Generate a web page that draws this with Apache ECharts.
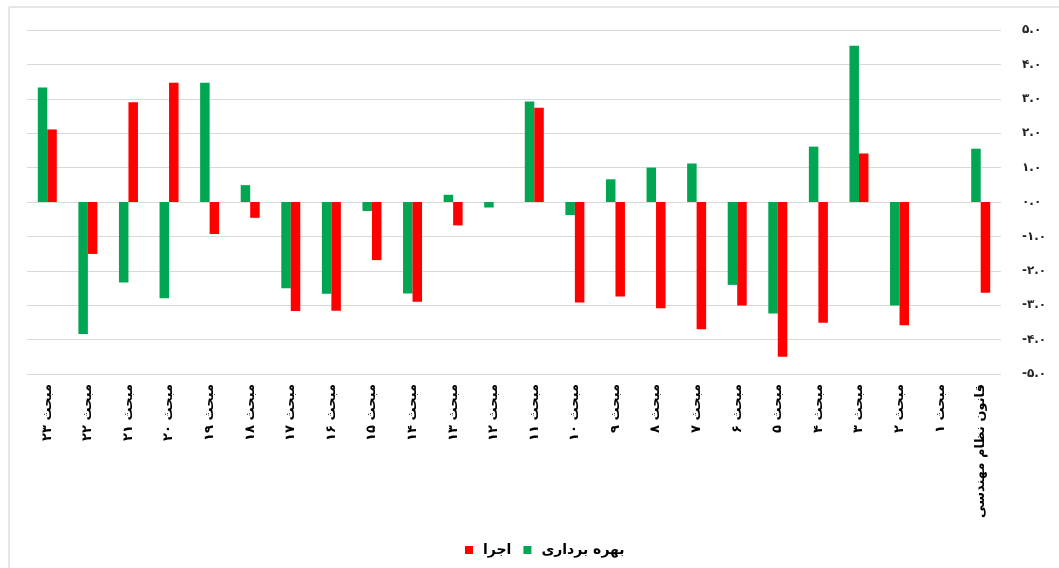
<!DOCTYPE html>
<html>
<head>
<meta charset="utf-8">
<title>chart</title>
<script src="https://cdn.jsdelivr.net/npm/echarts@6/dist/echarts.min.js"></script>
<style>
  html, body { margin: 0; padding: 0; background: #fff; }
  #main { width: 1059px; height: 568px; }
</style>
</head>
<body>
<div id="main"></div>
<script>
// categories, left to right
var categories = [
  'مبحث ۲۳', 'مبحث ۲۲', 'مبحث ۲۱', 'مبحث ۲۰', 'مبحث ۱۹', 'مبحث ۱۸',
  'مبحث ۱۷', 'مبحث ۱۶', 'مبحث ۱۵', 'مبحث ۱۴', 'مبحث ۱۳', 'مبحث ۱۲',
  'مبحث ۱۱', 'مبحث ۱۰', 'مبحث ۹', 'مبحث ۸', 'مبحث ۷', 'مبحث ۶',
  'مبحث ۵', 'مبحث ۴', 'مبحث ۳', 'مبحث ۲', 'مبحث ۱', 'قانون نظام مهندسی'
]

// بهره برداری (green)
var bahrebardari = [
  3.33, -3.84, -2.34, -2.80, 3.47, 0.49,
  -2.51, -2.67, -0.26, -2.66, 0.21, -0.16,
  2.92, -0.38, 0.66, 1.00, 1.12, -2.41,
  -3.24, 1.61, 4.54, -3.01, 0, 1.55
]

// اجرا (red)
var ejra = [
  2.11, -1.51, 2.90, 3.47, -0.93, -0.46,
  -3.17, -3.16, -1.69, -2.90, -0.68, 0,
  2.74, -2.92, -2.75, -3.09, -3.70, -3.01,
  -4.50, -3.51, 1.41, -3.58, 0, -2.64
]

// y tick labels (persian digits)
var yTicks = [-5, -4, -3, -2, -1, 0, 1, 2, 3, 4, 5]
var faDigits = ['۰', '۱', '۲', '۳', '۴', '۵', '۶', '۷', '۸', '۹']

function toFa(v) {
  return v.toFixed(1).replace(/[0-9]/g, function (d) { return faDigits[+d] })
}

var font = "'DejaVu Sans', sans-serif"
var chart = echarts.init(document.getElementById('main'))

chart.setOption({
  backgroundColor: '#fff',
  animation: false,
  textStyle: { fontFamily: font },
  graphic: [
    { type: 'line', shape: { x1: 9, y1: 7, x2: 1059, y2: 7 }, style: { stroke: '#dedede', lineWidth: 1.5 } },
    { type: 'line', shape: { x1: 9, y1: 7, x2: 9, y2: 568 }, style: { stroke: '#dedede', lineWidth: 1.5 } }
  ],
  grid: {
    left: 27,
    right: 58,
    top: 30,
    bottom: 194,
    outerBoundsMode: 'none'
  },
  legend: {
    data: ['اجرا', 'بهره برداری'],
    left: 460,
    top: 538,
    itemWidth: 8,
    itemHeight: 8,
    itemGap: 12,
    icon: 'rect',
    textStyle: { fontFamily: font, fontSize: 14, fontWeight: 'bold', color: '#000', padding: [0, 0, 0, 5] }
  },
  xAxis: {
    type: 'category',
    data: categories,
    axisLine: { show: false },
    axisTick: { show: false },
    splitLine: { show: false },
    axisLabel: {
      interval: 0,
      rotate: 90,
      margin: 10,
      fontFamily: font,
      fontSize: 13,
      fontWeight: 'bold',
      color: '#000'
    }
  },
  yAxis: {
    type: 'value',
    position: 'right',
    min: yTicks[0],
    max: yTicks[yTicks.length - 1],
    interval: 1,
    axisLine: { show: false },
    axisTick: { show: false },
    splitLine: { lineStyle: { color: '#d9d9d9', width: 1 } },
    axisLabel: {
      margin: 21,
      fontFamily: font,
      fontSize: 12,
      fontWeight: 'bold',
      color: '#222',
      formatter: function (v) { return toFa(v) }
    }
  },
  series: [
    {
      name: 'بهره برداری',
      type: 'bar',
      data: bahrebardari,
      barWidth: 9.5,
      barGap: '0%',
      itemStyle: { color: '#00a651' }
    },
    {
      name: 'اجرا',
      type: 'bar',
      data: ejra,
      barWidth: 9.5,
      barGap: '0%',
      itemStyle: { color: '#ff0000' }
    }
  ]
})
</script>
</body>
</html>
